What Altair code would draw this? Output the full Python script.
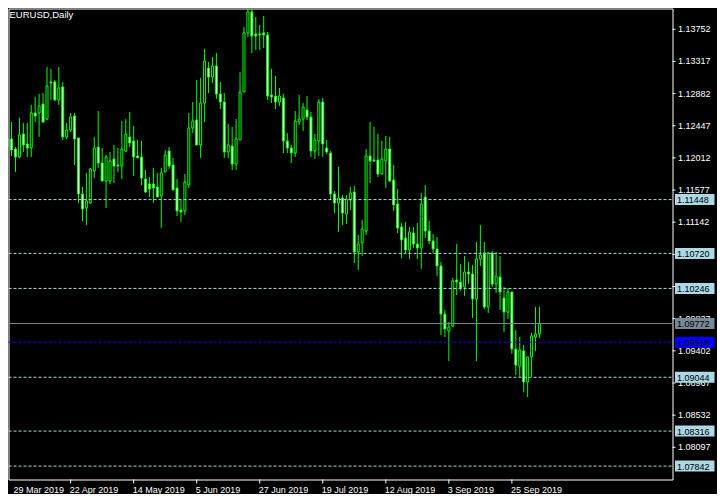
import altair as alt
import pandas as pd

# ---- data (EURUSD daily candles, bar index -1 .. 134) ----
idx = list(range(-1, 135))
open_ = [1.12268, 1.12268, 1.12132, 1.12024, 1.12335, 1.12200, 1.12146, 1.12619, 1.12619, 1.12741,
         1.12538, 1.13039, 1.13039, 1.12795, 1.12971, 1.12295, 1.12389, 1.12579, 1.12281, 1.11524,
         1.11334, 1.11402, 1.11835, 1.12159, 1.11943, 1.11699, 1.11699, 1.11997, 1.11916, 1.11902,
         1.12105, 1.12295, 1.12241, 1.12038, 1.12024, 1.11726, 1.11659, 1.11659, 1.11618, 1.11496,
         1.11821, 1.12105, 1.11916, 1.11605, 1.11307, 1.11294, 1.11645, 1.12416, 1.12525, 1.12186,
         1.12755, 1.13228, 1.13106, 1.13255, 1.12876, 1.12768, 1.12092, 1.12173, 1.11929, 1.12254,
         1.12903, 1.13702, 1.13986, 1.13688, 1.13688, 1.13702, 1.13675, 1.12863, 1.12849, 1.12768,
         1.12822, 1.12241, 1.12146, 1.12078, 1.12498, 1.12538, 1.12660, 1.12565, 1.12105, 1.12241,
         1.12768, 1.12146, 1.12078, 1.11524, 1.11402, 1.11469, 1.11253, 1.11442, 1.11551, 1.10739,
         1.10861, 1.11023, 1.12038, 1.11984, 1.11984, 1.11794, 1.11970, 1.12132, 1.11713, 1.11388,
         1.11077, 1.10928, 1.10766, 1.10996, 1.10847, 1.10793, 1.11483, 1.11023, 1.10888, 1.10780,
         1.10550, 1.09900, 1.09670, 1.09738, 1.10360, 1.10333, 1.10265, 1.10468, 1.10441, 1.10103,
         1.10644, 1.10725, 1.09995, 1.10725, 1.10306, 1.10401, 1.10117, 1.09927, 1.10198, 1.09427,
         1.09197, 1.09400, 1.08980, 1.09319, 1.09589, 1.09630]
high = [1.12308, 1.12498, 1.12159, 1.12552, 1.12484, 1.12484, 1.12728, 1.12836, 1.12876, 1.12890,
        1.13242, 1.13215, 1.13066, 1.13242, 1.13039, 1.12484, 1.12619, 1.12619, 1.12281, 1.11618,
        1.11808, 1.11875, 1.12295, 1.12646, 1.12146, 1.12051, 1.12092, 1.12186, 1.12146, 1.12511,
        1.12538, 1.12633, 1.12443, 1.12254, 1.12241, 1.11848, 1.11754, 1.11875, 1.11808, 1.11875,
        1.12119, 1.12159, 1.12011, 1.11726, 1.11442, 1.11794, 1.12619, 1.12768, 1.13066, 1.13093,
        1.13485, 1.13309, 1.13377, 1.13431, 1.13039, 1.12890, 1.12470, 1.12430, 1.12538, 1.13174,
        1.13783, 1.14040, 1.14107, 1.13918, 1.13810, 1.13932, 1.13715, 1.13215, 1.13120, 1.12958,
        1.12876, 1.12349, 1.12186, 1.12646, 1.12863, 1.12755, 1.12849, 1.12633, 1.12335, 1.12809,
        1.12822, 1.12254, 1.12105, 1.11564, 1.11889, 1.11510, 1.11510, 1.11618, 1.11632, 1.10969,
        1.11172, 1.12132, 1.12498, 1.12430, 1.12335, 1.12241, 1.12308, 1.12295, 1.11916, 1.11591,
        1.11131, 1.11145, 1.11077, 1.11077, 1.11131, 1.11537, 1.11645, 1.11158, 1.10982, 1.10942,
        1.10604, 1.09954, 1.09792, 1.10387, 1.10847, 1.10577, 1.10685, 1.10604, 1.10563, 1.10874,
        1.11104, 1.10874, 1.10739, 1.10752, 1.10739, 1.10685, 1.10265, 1.10252, 1.10198, 1.09684,
        1.09589, 1.09481, 1.09319, 1.09643, 1.09995, 1.09995]
low = [1.12119, 1.12038, 1.11821, 1.12011, 1.12092, 1.12024, 1.12024, 1.12498, 1.12295, 1.12484,
       1.12525, 1.12795, 1.12782, 1.12728, 1.12254, 1.12268, 1.12362, 1.11916, 1.11402, 1.11158,
       1.11104, 1.11388, 1.11740, 1.11875, 1.11699, 1.11334, 1.11659, 1.11672, 1.11821, 1.11726,
       1.12092, 1.12159, 1.11767, 1.12011, 1.11645, 1.11537, 1.11483, 1.11402, 1.11483, 1.11064,
       1.11821, 1.11862, 1.11578, 1.11226, 1.11145, 1.11240, 1.11605, 1.12349, 1.12186, 1.12011,
       1.12498, 1.12890, 1.13025, 1.12809, 1.12673, 1.12011, 1.12011, 1.11848, 1.11848, 1.12254,
       1.12903, 1.13648, 1.13431, 1.13472, 1.13472, 1.13499, 1.12795, 1.12755, 1.12673, 1.12714,
       1.12078, 1.12078, 1.11943, 1.12024, 1.12457, 1.12376, 1.12525, 1.12024, 1.11997, 1.12038,
       1.12024, 1.12065, 1.11456, 1.11267, 1.11009, 1.11104, 1.11118, 1.11307, 1.10590, 1.10495,
       1.10685, 1.10969, 1.11672, 1.11956, 1.11754, 1.11794, 1.11605, 1.11686, 1.11294, 1.10996,
       1.10658, 1.10725, 1.10644, 1.10793, 1.10644, 1.10509, 1.10928, 1.10847, 1.10725, 1.10414,
       1.09616, 1.09589, 1.09264, 1.09724, 1.10157, 1.10211, 1.10144, 1.10306, 1.09846, 1.09264,
       1.10550, 1.09968, 1.09914, 1.10265, 1.10184, 1.09954, 1.09657, 1.09833, 1.09359, 1.09075,
       1.09048, 1.08845, 1.08777, 1.09048, 1.09400, 1.09576]
close = [1.12159, 1.12119, 1.12024, 1.12322, 1.12186, 1.12146, 1.12619, 1.12579, 1.12714, 1.12498,
         1.12985, 1.13025, 1.12795, 1.12958, 1.12295, 1.12389, 1.12565, 1.12268, 1.11524, 1.11321,
         1.11429, 1.11862, 1.12146, 1.11943, 1.11699, 1.12024, 1.11970, 1.11902, 1.11902, 1.12132,
         1.12335, 1.12214, 1.12024, 1.12011, 1.11740, 1.11551, 1.11591, 1.11605, 1.11483, 1.11808,
         1.12051, 1.11902, 1.11578, 1.11294, 1.11280, 1.11686, 1.12416, 1.12511, 1.12186, 1.12755,
         1.13323, 1.13106, 1.13255, 1.12876, 1.12768, 1.12092, 1.12186, 1.11929, 1.12268, 1.12903,
         1.13702, 1.13986, 1.13661, 1.13661, 1.13675, 1.13675, 1.12849, 1.12836, 1.12768, 1.12849,
         1.12241, 1.12146, 1.12078, 1.12511, 1.12538, 1.12700, 1.12565, 1.12105, 1.12254, 1.12768,
         1.12200, 1.12092, 1.11524, 1.11402, 1.11469, 1.11267, 1.11456, 1.11537, 1.10739, 1.10847,
         1.11050, 1.12038, 1.11970, 1.11970, 1.11794, 1.11997, 1.12132, 1.11699, 1.11375, 1.11064,
         1.10901, 1.10766, 1.11009, 1.10847, 1.10793, 1.11388, 1.11023, 1.10888, 1.10780, 1.10550,
         1.09900, 1.09697, 1.09724, 1.10347, 1.10333, 1.10252, 1.10468, 1.10441, 1.10103, 1.10644,
         1.10698, 1.09995, 1.10725, 1.10306, 1.10414, 1.10198, 1.09927, 1.10198, 1.09427, 1.09210,
         1.09413, 1.08980, 1.09319, 1.09603, 1.09630, 1.09772]

tick_labels = ["1.13752", "1.13317", "1.12882", "1.12447", "1.12012", "1.11577", "1.11142",
               "1.10707", "1.10272", "1.09837", "1.09402", "1.08967", "1.08532", "1.08097"]
level_lines = ["1.11448", "1.10720", "1.10246", "1.09044", "1.08316", "1.07842"]
bid_line = "1.09772"
blue_line = "1.09518"
date_idx = [-1, 15, 31, 47, 63, 79, 95, 111, 127]
date_labels = ["29 Mar 2019", "22 Apr 2019", "14 May 2019", "5 Jun 2019", "27 Jun 2019",
               "19 Jul 2019", "12 Aug 2019", "3 Sep 2019", "25 Sep 2019"]
title = "EURUSD,Daily"

# ---- layout / style ----
W, H = 664, 471
FONT = "Liberation Sans"
LIME = "#00FF00"
LBLUE = "#ADD8E6"
SLATE = "#778899"
BLUE = "#0000FF"
DASH = [3, 2]

xs = alt.Scale(domain=[0.5, 166.5], nice=False, zero=False)
ys = alt.Scale(domain=[1.07661, 1.14033], nice=False, zero=False)

df = pd.DataFrame({"i": idx, "o": open_, "h": high, "l": low, "c": close})
df["fill"] = ["black" if c > o else "white" for o, c in zip(open_, close)]

base = alt.Chart(df)
wicks = base.mark_rule(color=LIME, strokeWidth=1, clip=True).encode(
    x=alt.X("i:Q", scale=xs, axis=None),
    y=alt.Y("l:Q", scale=ys, axis=None),
    y2="h:Q",
)
bodies = base.mark_bar(size=2, stroke=LIME, strokeWidth=1, clip=True).encode(
    x=alt.X("i:Q", scale=xs, axis=None),
    y=alt.Y("o:Q", scale=ys, axis=None),
    y2="c:Q",
    fill=alt.Fill("fill:N", scale=None),
)

lv = pd.DataFrame({"p": [float(v) for v in level_lines], "t": level_lines})
levels = alt.Chart(lv).mark_rule(color=LBLUE, strokeDash=DASH, strokeWidth=1).encode(
    y=alt.Y("p:Q", scale=ys, axis=None), x=alt.value(0), x2=alt.value(W)
)
bid = alt.Chart(pd.DataFrame({"p": [float(bid_line)]})).mark_rule(color=SLATE, strokeWidth=1).encode(
    y=alt.Y("p:Q", scale=ys, axis=None), x=alt.value(0), x2=alt.value(W)
)
blue = alt.Chart(pd.DataFrame({"p": [float(blue_line)]})).mark_rule(
    color=BLUE, strokeDash=DASH, strokeWidth=1).encode(
    y=alt.Y("p:Q", scale=ys, axis=None), x=alt.value(0), x2=alt.value(W)
)

tk = pd.DataFrame({"p": [float(v) for v in tick_labels], "t": tick_labels})
ytick_rules = alt.Chart(tk).mark_rule(color="white", strokeWidth=1).encode(
    y=alt.Y("p:Q", scale=ys, axis=None), x=alt.value(W), x2=alt.value(W + 3)
)
ytick_text = alt.Chart(tk).mark_text(
    align="left", baseline="middle", font=FONT, fontSize=9, color="white"
).encode(y=alt.Y("p:Q", scale=ys, axis=None), x=alt.value(W + 5.5), text="t:N")

boxes_df = pd.DataFrame({
    "p": [float(v) for v in level_lines] + [float(bid_line), float(blue_line)],
    "t": level_lines + [bid_line, blue_line],
    "bg": [LBLUE] * len(level_lines) + [SLATE, BLUE],
})
boxes = alt.Chart(boxes_df).mark_rule(strokeWidth=11).encode(
    y=alt.Y("p:Q", scale=ys, axis=None), x=alt.value(W + 2.5), x2=alt.value(W + 42),
    color=alt.Color("bg:N", scale=None),
)
box_text = alt.Chart(boxes_df).mark_text(
    align="left", baseline="middle", font=FONT, fontSize=9, color="black", dy=0.5
).encode(y=alt.Y("p:Q", scale=ys, axis=None), x=alt.value(W + 4.5), text="t:N")

dd = pd.DataFrame({"i": date_idx, "t": date_labels})
date_ticks = alt.Chart(dd).transform_filter("datum.i >= 0.5").mark_rule(color="white").encode(
    x=alt.X("i:Q", scale=xs, axis=None), y=alt.value(H), y2=alt.value(H + 4)
)
date_text = alt.Chart(dd).transform_calculate(xl="max(datum.i, 0.75)").mark_text(
    align="left", baseline="alphabetic", font=FONT, fontSize=9, color="white", dx=-1
).encode(x=alt.X("xl:Q", scale=xs, axis=None), y=alt.value(H + 13.5), text="t:N")

title_text = alt.Chart(pd.DataFrame({"t": [title]})).mark_text(
    align="left", baseline="top", font=FONT, fontSize=9.5, color="white"
).encode(x=alt.value(1), y=alt.value(1.5), text="t:N")

chart = alt.layer(
    wicks, bodies, levels, bid, blue,
    ytick_rules, ytick_text, boxes, box_text,
    date_ticks, date_text, title_text,
).properties(
    width=W, height=H,
    padding={"left": 0.5, "top": 0.5, "right": 44.5, "bottom": 14.5},
    autosize=alt.AutoSizeParams(type="none"),
).configure(background="black").configure_view(stroke="white", strokeWidth=1, fill="black")

chart.save("out.html", embed_options={"renderer": "svg", "actions": False})
